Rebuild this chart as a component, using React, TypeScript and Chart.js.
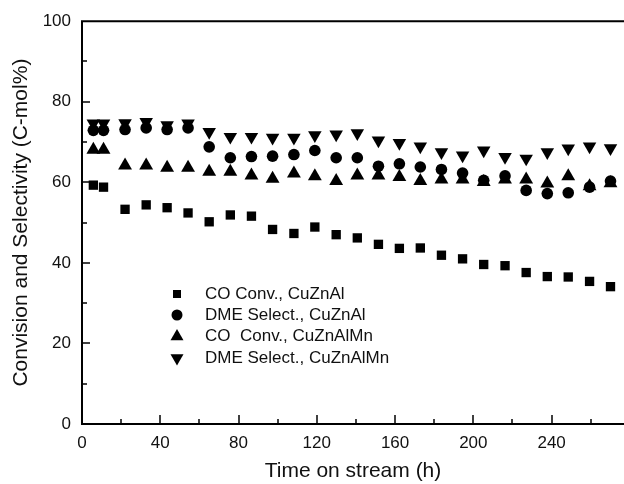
import React, { useEffect, useRef } from "react";
import { Chart, registerables } from "chart.js";

Chart.register(...registerables);

// Time on stream (h) for each measurement
const hours = [5.8, 11, 22, 32.8, 43.5, 54.2, 65, 75.8, 86.6, 97.4, 108.3, 119, 129.9, 140.7, 151.5, 162.2, 172.9, 183.7, 194.5, 205.3, 216.2, 227, 237.8, 248.5, 259.4, 270.1];

// CO conversion, CuZnAl (squares)
const coConvCuZnAl = [59.3, 58.8, 53.3, 54.4, 53.7, 52.4, 50.2, 51.9, 51.6, 48.3, 47.3, 48.9, 47.0, 46.2, 44.6, 43.6, 43.7, 41.9, 41.0, 39.6, 39.3, 37.6, 36.6, 36.5, 35.4, 34.1];
// DME selectivity, CuZnAl (circles)
const dmeSelCuZnAl = [72.9, 72.9, 73.1, 73.5, 73.1, 73.5, 68.8, 66.1, 66.4, 66.5, 66.9, 67.9, 66.1, 66.1, 64.0, 64.6, 63.8, 63.2, 62.3, 60.5, 61.6, 58.0, 57.2, 57.4, 58.8, 60.3];
// CO conversion, CuZnAlMn (up triangles)
const coConvCuZnAlMn = [68.1, 68.1, 64.2, 64.2, 63.6, 63.6, 62.6, 62.6, 61.7, 60.9, 62.2, 61.5, 60.3, 61.7, 61.7, 61.3, 60.3, 60.7, 60.7, 60.1, 60.7, 60.7, 59.7, 61.5, 59.0, 59.8];
// DME selectivity, CuZnAlMn (down triangles)
const dmeSelCuZnAlMn = [74.6, 74.6, 74.7, 75.0, 74.2, 74.6, 72.5, 71.3, 71.3, 71.1, 71.1, 71.7, 71.9, 72.2, 70.4, 69.8, 68.9, 67.5, 66.7, 67.9, 66.3, 65.9, 67.5, 68.4, 68.9, 68.5];

const seriesLabels = ["CO Conv., CuZnAl", "DME Select., CuZnAl", "CO  Conv., CuZnAlMn", "DME Select., CuZnAlMn"];

const xTitle = "Time on stream (h)";
const yTitle = "Convision and Selectivity (C-mol%)";
const xMin = 0;
const xMax = 277;
const xStep = 20;
const xLabelEvery = 40;
const yMin = 0;
const yMax = 100;
const yStep = 10;
const yLabelEvery = 20;

const FONT = "'Liberation Sans', Arial, Helvetica, sans-serif";
const INK = "#111";

function drawShape(ctx: CanvasRenderingContext2D, kind: string, x: number, y: number, r: number) {
  ctx.beginPath();
  if (kind === "rect") {
    ctx.rect(x - r, y - r, 2 * r, 2 * r);
  } else if (kind === "circle") {
    ctx.arc(x, y, r, 0, Math.PI * 2);
  } else if (kind === "up") {
    const h = r * 1.5;
    const w = r * Math.sqrt(3);
    ctx.moveTo(x, y - r);
    ctx.lineTo(x + w / 2, y - r + h);
    ctx.lineTo(x - w / 2, y - r + h);
    ctx.closePath();
  } else {
    const h = r * 1.5;
    const w = r * Math.sqrt(3);
    ctx.moveTo(x, y + r);
    ctx.lineTo(x + w / 2, y + r - h);
    ctx.lineTo(x - w / 2, y + r - h);
    ctx.closePath();
  }
  ctx.fill();
}

const overlayPlugin = {
  id: "overlay",
  afterDatasetsDraw(chart: any) {
    const { ctx, chartArea, scales } = chart;
    const xs = scales.x;
    const ys = scales.y;
    ctx.save();
    ctx.strokeStyle = "#000";
    ctx.lineCap = "butt";
    // axes frame
    ctx.lineWidth = 2;
    ctx.beginPath();
    ctx.moveTo(chartArea.left, chartArea.top);
    ctx.lineTo(chartArea.right, chartArea.top);
    ctx.moveTo(chartArea.left, chartArea.top - 1);
    ctx.lineTo(chartArea.left, chartArea.bottom + 1);
    ctx.moveTo(chartArea.left - 1, chartArea.bottom);
    ctx.lineTo(chartArea.right, chartArea.bottom);
    ctx.stroke();
    // inward ticks
    ctx.lineWidth = 1.5;
    ys.ticks.forEach((t: any) => {
      if (t.value % yStep !== 0 || t.value === yMin || t.value === yMax) return;
      const py = Math.round(ys.getPixelForValue(t.value));
      const len = t.value % yLabelEvery === 0 ? 8 : 5;
      ctx.beginPath();
      ctx.moveTo(chartArea.left, py);
      ctx.lineTo(chartArea.left + len, py);
      ctx.stroke();
    });
    xs.ticks.forEach((t: any) => {
      if (t.value % xStep !== 0 || t.value === xMin) return;
      const px = Math.round(xs.getPixelForValue(t.value));
      const len = t.value % xLabelEvery === 0 ? 9 : 5;
      ctx.beginPath();
      ctx.moveTo(px, chartArea.bottom);
      ctx.lineTo(px, chartArea.bottom - len);
      ctx.stroke();
    });
    // legend
    const shapes = [
      { kind: "rect", r: 4 },
      { kind: "circle", r: 5.5 },
      { kind: "up", r: 7.5 },
      { kind: "down", r: 7.5 },
    ];
    const symX = 177;
    const textX = 205;
    const rows = [294, 315, 336.5, 358];
    ctx.fillStyle = "#000";
    ctx.font = `17px ${FONT}`;
    ctx.textBaseline = "middle";
    ctx.textAlign = "left";
    seriesLabels.forEach((label, i) => {
      const s = shapes[i];
      ctx.fillStyle = "#000";
      drawShape(ctx, s.kind, symX, rows[i], s.r);
      ctx.fillStyle = INK;
      ctx.fillText(label, textX, rows[i]);
    });
    ctx.restore();
  },
};

function pts(values: number[]) {
  return hours.map((h, i) => ({ x: h, y: values[i] }));
}

export default function App() {
  const canvasRef = useRef<HTMLCanvasElement | null>(null);

  useEffect(() => {
    document.body.style.margin = "0";
    const canvas = canvasRef.current;
    if (!canvas) return;
    const common = { backgroundColor: "#000", borderColor: "#000", pointBorderWidth: 0, borderWidth: 0, showLine: false, clip: false };
    const chart = new Chart(canvas, {
      type: "scatter",
      data: {
        datasets: [
          { label: seriesLabels[0], data: pts(coConvCuZnAl), pointStyle: "rect", pointRadius: 6.6, ...common },
          { label: seriesLabels[1], data: pts(dmeSelCuZnAl), pointStyle: "circle", pointRadius: 5.8, ...common },
          { label: seriesLabels[2], data: pts(coConvCuZnAlMn), pointStyle: "triangle", pointRadius: 8, ...common },
          { label: seriesLabels[3], data: pts(dmeSelCuZnAlMn), pointStyle: "triangle", pointRotation: 180, pointRadius: 7.8, ...common },
        ],
      },
      options: {
        animation: false,
        responsive: false,
        devicePixelRatio: 1,
        layout: { autoPadding: false, padding: { top: 20, right: 0, bottom: 0, left: 0 } },
        plugins: { legend: { display: false }, tooltip: { enabled: false } },
        scales: {
          x: {
            type: "linear",
            min: xMin,
            max: xMax,
            grid: { display: false, drawTicks: false },
            border: { display: false },
            ticks: {
              stepSize: xStep,
              includeBounds: false,
              autoSkip: false,
              maxRotation: 0,
              padding: 9,
              color: INK,
              font: { family: FONT, size: 17 },
              callback: (v: any) => (Number(v) % xLabelEvery === 0 ? String(v) : ""),
            },
            title: { display: true, text: xTitle, color: INK, font: { family: FONT, size: 21 }, padding: { top: 0, bottom: 0 } },
            afterFit: (s: any) => { s.height = 60; s.paddingRight = 0; s.paddingLeft = 0; },
          },
          y: {
            type: "linear",
            min: yMin,
            max: yMax,
            grid: { display: false, drawTicks: false },
            border: { display: false },
            ticks: {
              stepSize: yStep,
              autoSkip: false,
              padding: 11,
              color: INK,
              font: { family: FONT, size: 17 },
              callback: (v: any) => (Number(v) % yLabelEvery === 0 ? String(v) : ""),
            },
            title: { display: true, text: yTitle, color: INK, font: { family: FONT, size: 21 }, padding: { top: 9, bottom: 0 } },
            afterFit: (s: any) => { s.width = 82; },
          },
        },
      },
      plugins: [overlayPlugin],
    });
    return () => chart.destroy();
  }, []);

  return (
    <div style={{ position: "fixed", left: 0, top: 0, width: 624, height: 484, background: "#fff" }}>
      <canvas ref={canvasRef} width={624} height={484} style={{ display: "block" }} />
    </div>
  );
}
